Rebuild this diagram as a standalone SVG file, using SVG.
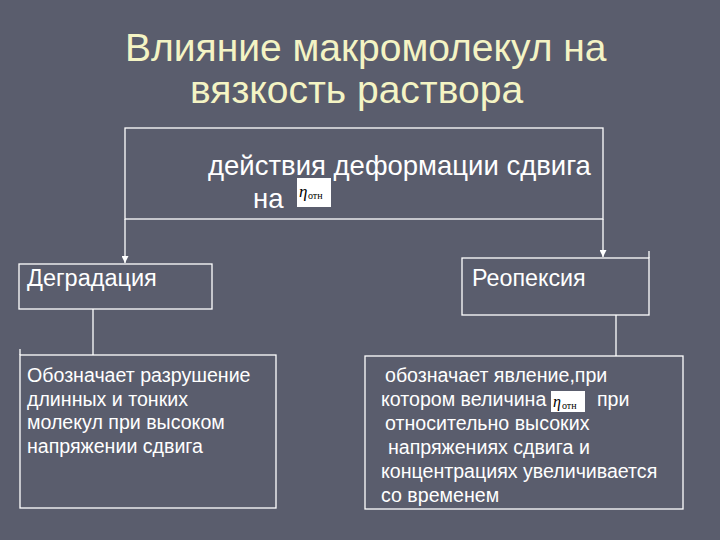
<svg xmlns="http://www.w3.org/2000/svg" width="720" height="540" viewBox="0 0 720 540">
<defs>
<style>
.box{fill:none;stroke:#ffffff;stroke-width:1.3}
.ln{fill:none;stroke:#ffffff;stroke-width:1.3}
.t{font-family:"Liberation Sans",Arial,sans-serif;fill:#ffffff}
.title{font-family:"Liberation Sans",Arial,sans-serif;fill:#f4f4c4;font-size:39px}
.eta{font-family:"Liberation Serif","Times New Roman",serif;fill:#000000;font-style:italic}
.sub{font-family:"Liberation Serif","Times New Roman",serif;fill:#000000}
</style>
<marker id="arr" markerWidth="8" markerHeight="7" refX="7" refY="3.5" orient="auto" markerUnits="userSpaceOnUse">
<path d="M0,0 L7,3.5 L0,7 Z" fill="#ffffff"/>
</marker>
</defs>
<rect width="720" height="540" fill="#5a5d6d"/>
<g id="title">
<text class="title" x="125" y="61">Влияние макромолекул на</text>
<text class="title" x="190" y="103">вязкость раствора</text>
</g>
<g id="top">
<rect class="box" x="125" y="128" width="478" height="91"/>
<text class="t" x="208" y="175" font-size="27.5">действия деформации сдвига</text>
<text class="t" x="253" y="208" font-size="27.5">на</text>
<rect x="297" y="178" width="34" height="29" fill="#ffffff"/>
<text class="eta" x="299" y="197" font-size="17">η</text>
<text class="sub" x="308" y="199" font-size="10">отн</text>
</g>
<g id="degradation">
<rect class="box" x="19" y="264" width="193" height="45"/>
<text class="t" x="27" y="286" font-size="23.5">Деградация</text>
</g>
<g id="rheopexy">
<rect class="box" x="462" y="258" width="187" height="57"/>
<line class="ln" x1="649" y1="251" x2="649" y2="258"/>
<text class="t" x="472" y="286" font-size="23.3">Реопексия</text>
</g>
<g id="degradation-desc">
<rect class="box" x="20" y="355" width="256" height="153"/>
<line class="ln" x1="20" y1="349" x2="20" y2="355"/>
<text class="t" font-size="19.6">
<tspan x="27" y="382">Обозначает разрушение</tspan>
<tspan x="27" y="405.5">длинных и тонких</tspan>
<tspan x="27" y="429">молекул при высоком</tspan>
<tspan x="27" y="452.5">напряжении сдвига</tspan>
</text>
</g>
<g id="rheopexy-desc">
<rect class="box" x="365" y="356" width="318" height="153"/>
<text class="t" font-size="19.6">
<tspan x="385" y="382">обозначает явление,при</tspan>
<tspan x="381" y="406">котором величина</tspan>
<tspan x="597" y="406">при</tspan>
<tspan x="385" y="430">относительно высоких</tspan>
<tspan x="388" y="454">напряжениях сдвига и</tspan>
<tspan x="381" y="478">концентрациях увеличивается</tspan>
<tspan x="381" y="502">со временем</tspan>
</text>
<rect x="551" y="391" width="34" height="21" fill="#ffffff"/>
<text class="eta" x="553" y="407" font-size="16">η</text>
<text class="sub" x="562" y="409" font-size="10">отн</text>
</g>
<g id="connectors">
<line class="ln" x1="125" y1="219" x2="125" y2="263" marker-end="url(#arr)"/>
<line class="ln" x1="603" y1="219" x2="603" y2="257" marker-end="url(#arr)"/>
<line class="ln" x1="93" y1="309" x2="93" y2="355"/>
<line class="ln" x1="616" y1="315" x2="616" y2="356"/>
</g>
</svg>
